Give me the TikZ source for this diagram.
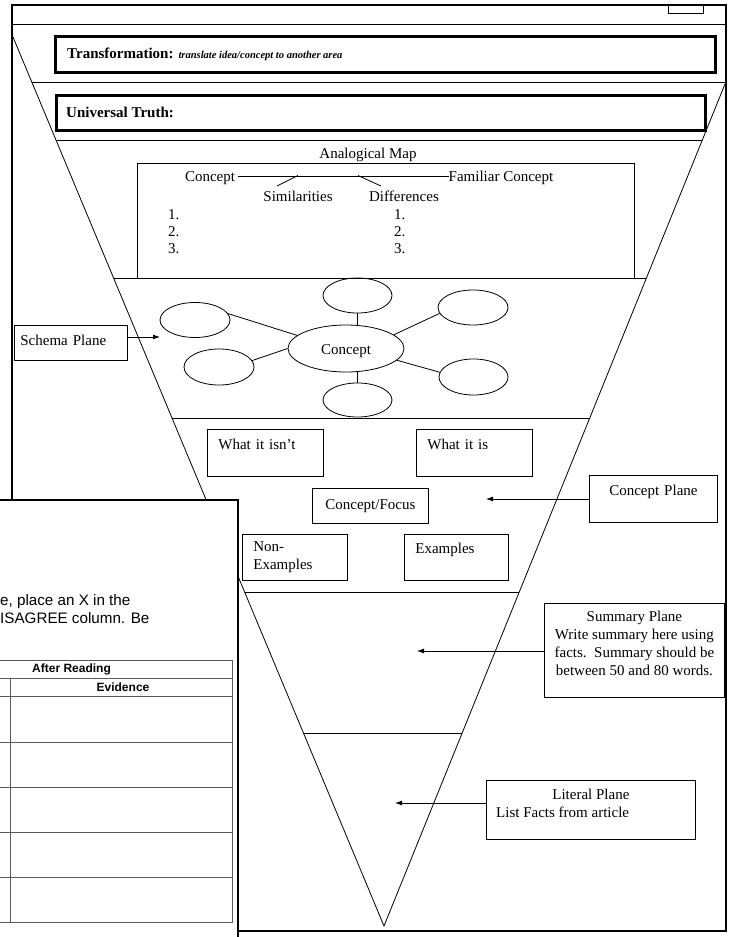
\documentclass[tikz,border=0pt]{standalone}
\usepackage{fontspec}
\setmainfont{Liberation Serif}
\setsansfont{Liberation Sans}
\usetikzlibrary{arrows.meta,shapes.geometric,calc}
\begin{document}
\begin{tikzpicture}[x=1pt,y=-1pt,
  font=\fontsize{15}{18}\selectfont,
  thin/.style={line width=0.8pt},
  frame/.style={line width=2.2pt},
  hbox/.style={draw, line width=2.6pt, inner sep=0pt, anchor=north west},
  lbox/.style={draw, line width=0.8pt, anchor=north west, inner ysep=0pt},
  oval/.style={draw, ellipse, line width=0.8pt, inner sep=0pt},
  txt/.style={inner sep=0pt},
  arr/.style={line width=0.8pt, -{Latex[length=7pt,width=5pt]}},
  tab/.style={line width=0.8pt, draw=black!65},
  sans/.style={inner sep=0pt, font=\sffamily\fontsize{15.2}{17}\selectfont},
  sansb/.style={inner sep=0pt, font=\sffamily\bfseries\fontsize{12}{14}\selectfont},
]
\clip (0,0) rectangle (731,937);
\fill[white] (0,0) rectangle (731,937);

% outer frame and top strip
\draw[frame] (12,5) rectangle (726,931);
\draw[thin] (668,5) rectangle (703,13);
\draw[thin] (12,24) -- (726,24);

% inverted triangle
\coordinate (LT) at (13,37);
\coordinate (RT) at (725,84);
\coordinate (AP) at (384,926);
\draw[thin] (LT) -- (AP) -- (RT);

% plane dividers
\draw[thin] (31.8,82) -- (726,82);
\draw[thin] (56.0,140) -- (702.3,140);
\draw[thin] (113.6,278) -- (646.4,278);
\draw[thin] (172.0,418) -- (589.7,418);
\draw[thin] (244.6,592) -- (519.3,592);
\draw[thin] (303.4,733) -- (462.2,733);

% header boxes
\node[hbox, minimum width=660, minimum height=36] (trans) at (54,35) {};
\node[txt, anchor=west] at ($(trans.west)+(13,0)$) {\textbf{Transformation:} {\fontsize{10.5}{12}\selectfont\bfseries\itshape translate idea/concept to another area}};
\node[hbox, minimum width=649, minimum height=35] (univ) at (55,94) {};
\node[txt, anchor=west] at ($(univ.west)+(11,0)$) {\textbf{Universal Truth:}};

% analogical map
\node[txt] (amt) at (368,155) {Analogical Map};
\node[draw, line width=0.8pt, inner sep=0pt, anchor=north west, minimum width=497, minimum height=115] (amap) at (137,163) {};
\node[inner sep=3pt] (cn) at (210,178) {Concept};
\node[inner sep=0pt] (fc) at (501,178) {Familiar Concept};
\draw[thin] ([yshift=2pt]cn.east) -- ([yshift=2pt]fc.west);
\coordinate (s1) at (298,175.5);
\coordinate (s2) at (277,186);
\coordinate (d1) at (358,175.5);
\coordinate (d2) at (381,186);
\draw[thin] (s1) -- (s2);
\draw[thin] (d1) -- (d2);
\node[txt] (sim) at (298,196) {Similarities};
\node[txt] (dif) at (404,196) {Differences};
\node[txt, anchor=west] (a1) at (168,215) {1.};
\node[txt, anchor=west] (a2) at (168,232) {2.};
\node[txt, anchor=west] (a3) at (168,249) {3.};
\node[txt, anchor=west] (b1) at (394,215) {1.};
\node[txt, anchor=west] (b2) at (394,232) {2.};
\node[txt, anchor=west] (b3) at (394,249) {3.};

% schema plane
\node[oval, minimum width=116, minimum height=47] (cc) at (346,348.5) {};
\node[txt] at ($(cc.center)+(0,3)$) {Concept};
\node[oval, minimum width=69, minimum height=35] (e1) at (357.5,295.5) {};
\node[oval, minimum width=70, minimum height=35] (e2) at (473,307.5) {};
\node[oval, minimum width=69, minimum height=36] (e3) at (473.5,377) {};
\node[oval, minimum width=69, minimum height=34] (e4) at (357.5,400) {};
\node[oval, minimum width=70, minimum height=35] (e5) at (195,320) {};
\node[oval, minimum width=70, minimum height=36] (e6) at (219,367) {};
\draw[thin] (e5.11) -- (cc.165);
\draw[thin] (e6.11) -- (cc.180);
\draw[thin] (e1.south) -- (e1.south |- cc.north);
\draw[thin] (e2.190) -- (cc.16);
\draw[thin] (e3.172) -- (cc.-13);
\draw[thin] (e4.north) -- (e4.north |- cc.south);

\node[lbox, inner xsep=6pt, text width=101, align=left, minimum height=35] (schema) at (14,325) {Schema Plane\\[-13pt]\mbox{}};
\coordinate (schT) at (160,337);
\draw[arr] (schema.east |- schT) -- (schT);

% concept plane
\node[lbox, inner xsep=11pt, text width=94, align=left, minimum height=47] (isnt) at (207,429) {What it isn’t\\\mbox{}};
\node[lbox, inner xsep=11pt, text width=94, align=left, minimum height=47] (is) at (416,429) {What it is\\\mbox{}};
\node[lbox, inner xsep=0pt, text width=116, align=center, minimum height=35] (focus) at (312,488) {Concept/Focus};
\node[lbox, inner xsep=11pt, text width=83, align=left, minimum height=46] (nonex) at (242,534) {Non-\\Examples};
\node[lbox, inner xsep=11pt, text width=82, align=left, minimum height=46] (ex) at (404,534) {Examples\\\mbox{}};
\node[lbox, inner xsep=0pt, text width=128, align=center, minimum height=47] (cplane) at (589,475) {Concept Plane\\\mbox{}};
\coordinate (cpT) at (486,499);
\draw[arr] (cplane.west |- cpT) -- (cpT);

% summary plane
\node[draw, line width=0.8pt, inner sep=0pt, anchor=north west, minimum width=180, minimum height=94] (sum) at (544,603) {};
\node[txt, anchor=north, align=center] at ($(sum.north)+(0,8)$) {Summary Plane\\Write summary here using\\facts.\ \ Summary should be\\between 50 and 80 words.};
\coordinate (smT) at (417,651);
\draw[arr] (sum.west |- smT) -- (smT);

% literal plane
\node[draw, line width=0.8pt, inner sep=0pt, anchor=north west, minimum width=209, minimum height=59] (lit) at (486,780) {};
\node[txt] at ($(lit.north)+(0,14)$) {Literal Plane};
\node[txt, anchor=west] at ($(lit.north west)+(10,32)$) {List Facts from article};
\coordinate (ltT) at (395,803);
\draw[arr] (lit.west |- ltT) -- (ltT);

% overlapping sheet
\fill[white] (-5,500) rectangle (238,945);
\draw[frame] (-5,500) -- (238,500) -- (238,945);
\node[sans, anchor=west] at (0,602) {e, place an X in the};
\node[sans, anchor=west] at (0,618) {ISAGREE column. Be};
\draw[tab] (-5,660) -- (232,660) -- (232,922) -- (-5,922);
\foreach \yy in {678,696,742,787,832,877} \draw[tab] (-5,\yy) -- (232,\yy);
\draw[tab] (10,678) -- (10,922);
\node[sansb, anchor=west] at (32,669) {After Reading};
\node[sansb] at (123,687) {Evidence};
\end{tikzpicture}
\end{document}
